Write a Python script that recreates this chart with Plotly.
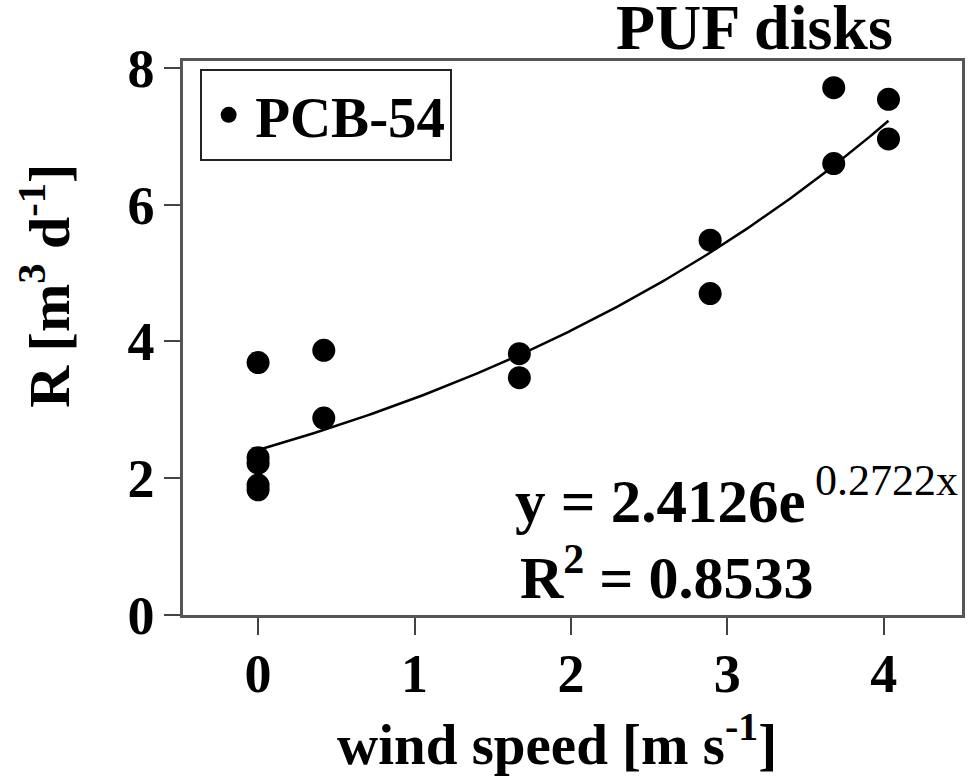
import numpy as np
import plotly.graph_objects as go

# Data
wind_speed = [0.0, 0.0, 0.0, 0.0, 0.0, 0.42, 0.42, 1.67, 1.67, 2.89, 2.89, 3.68, 3.68, 4.03, 4.03]
R_values = [3.69, 2.30, 2.22, 1.90, 1.83, 3.87, 2.88, 3.82, 3.47, 5.48, 4.70, 7.71, 6.60, 7.54, 6.96]
series_name = "PCB-54"
fit_a = 2.4126
fit_b = 0.2722
r_squared = 0.8533
x_ticks = [0, 1, 2, 3, 4]
y_ticks = [0, 2, 4, 6, 8]

FONT = "Liberation Serif"

xfit = np.linspace(min(wind_speed), max(wind_speed), 200)
yfit = fit_a * np.exp(fit_b * xfit)

fig = go.Figure()
fig.add_trace(go.Scatter(x=xfit, y=yfit, mode="lines", line=dict(color="black", width=2.5),
                         showlegend=False, hoverinfo="skip"))
fig.add_trace(go.Scatter(x=wind_speed, y=R_values, mode="markers", name=series_name,
                         marker=dict(color="black", size=23)))

fig.update_layout(
    width=974, height=778,
    margin=dict(l=183, r=9, t=61, b=163),
    plot_bgcolor="white", paper_bgcolor="white",
    font=dict(family=FONT, color="black", size=40),
    showlegend=True,
    legend=dict(x=0.022, y=0.985, xanchor="left", yanchor="top",
                bordercolor="#222", borderwidth=2, bgcolor="white",
                font=dict(family=FONT, size=57, color="black", weight="bold"),
                itemwidth=43, entrywidth=232, entrywidthmode="pixels"),
)
axis_common = dict(showline=True, linecolor="#555", linewidth=2.5, mirror=True,
                   ticks="outside", tickcolor="#444", tickwidth=2,
                   showgrid=False, zeroline=False,
                   tickfont=dict(family=FONT, size=54, color="black", weight="bold"))
fig.update_xaxes(range=[-0.48, 4.5], tickvals=x_ticks, ticklen=17, ticklabelstandoff=-8,
                 **axis_common)
fig.update_yaxes(range=[0, 8.1], tickvals=y_ticks, ticklen=16, ticklabelstandoff=-1,
                 **axis_common)

# axis titles
fig.add_annotation(text="wind speed [m s<sup>-1</sup>]", xref="paper", yref="paper",
                   x=0.48, y=-0.226, xanchor="center", yanchor="middle", showarrow=False,
                   font=dict(family=FONT, size=57, weight="bold"))
fig.add_annotation(text="R [m<sup>3</sup> d<sup>-1</sup>]", xref="paper", yref="paper",
                   x=-0.176, y=0.594, xanchor="center", yanchor="middle", showarrow=False,
                   textangle=-90, font=dict(family=FONT, size=58, weight="bold"))

fig.add_annotation(text="PUF disks", xref="paper", yref="paper", x=0.734, y=1.0,
                   xanchor="center", yanchor="bottom", yshift=-4, showarrow=False,
                   font=dict(family=FONT, size=64, weight="bold"))
fig.add_annotation(text="y = %.4fe" % fit_a, xref="x", yref="y", x=1.63, y=1.66,
                   xanchor="left", yanchor="middle", showarrow=False,
                   font=dict(family=FONT, size=61, weight="bold"))
fig.add_annotation(text="%.4fx" % fit_b, xref="x", yref="y", x=3.55, y=1.97,
                   xanchor="left", yanchor="middle", showarrow=False,
                   font=dict(family=FONT, size=44))
fig.add_annotation(text="R<sup>2</sup> = %.4f" % r_squared, xref="x", yref="y", x=1.66, y=0.6,
                   xanchor="left", yanchor="middle", showarrow=False,
                   font=dict(family=FONT, size=60, weight="bold"))

fig.write_html("out.html")
